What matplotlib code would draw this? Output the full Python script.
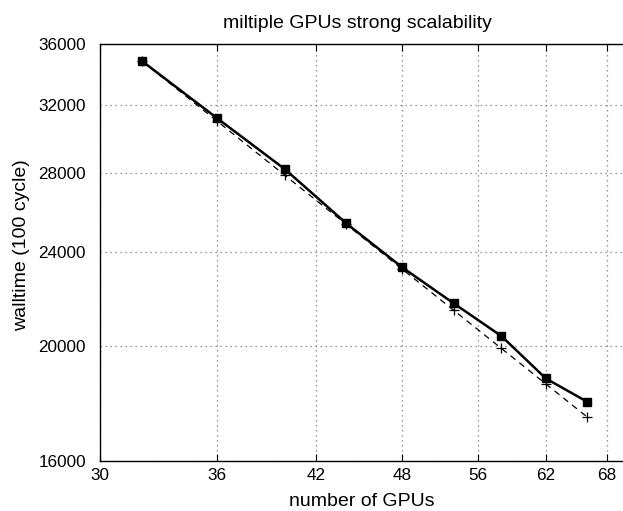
import matplotlib.pyplot as plt
from matplotlib.ticker import FixedLocator, NullLocator

plt.rcParams['font.family'] = ['Liberation Sans', 'DejaVu Sans']

# data
gpus = [32, 36, 40, 44, 48, 52, 56, 60, 64]
walltime = [34850, 31155, 28213, 25398, 23313, 21737, 20398, 18785, 17949]
ideal = [34850, 30978, 27880, 25345, 23233, 21446, 19914, 18587, 17425]

xtick_pos = [30, 36, 42, 48, 54, 60, 66]
xtick_labels = ['30', '36', '42', '48', '56', '62', '68']
ytick_pos = [16000, 20000, 24000, 28000, 32000, 36000]

W, H = 623, 511
fig = plt.figure(figsize=(W / 100, H / 100), dpi=100)
# axes runs past the right edge like the cropped original
left, right, top, bottom = 100, 645, 44, 461
ax = fig.add_axes([left / W, (H - bottom) / H, (right - left) / W, (bottom - top) / H])

ax.plot(gpus, ideal, color='black', lw=0.9, ls=(0, (5, 4)), marker='+', ms=7, mew=0.9)
ax.plot(gpus, walltime, color='black', lw=1.8, marker='s', ms=5.5)

ax.set_xscale('log')
ax.set_yscale('log')
ax.set_xlim(30, 70)
ax.set_ylim(16000, 36000)

ax.xaxis.set_major_locator(FixedLocator(xtick_pos))
ax.xaxis.set_minor_locator(NullLocator())
ax.set_xticklabels(xtick_labels)
ax.yaxis.set_major_locator(FixedLocator(ytick_pos))
ax.yaxis.set_minor_locator(NullLocator())
ax.set_yticklabels([str(v) for v in ytick_pos])

ax.tick_params(direction='in', length=5, width=0.8, labelsize=12.3, top=True, pad=5)
ax.tick_params(axis='y', length=0, pad=10)
ax.grid(True, color='#777777', ls=(0, (1, 3)), lw=0.9)
for s in ax.spines.values():
    s.set_linewidth(1.0)
ax.spines['right'].set_visible(False)

fig.text(362 / W, 1 - 502 / H, 'number of GPUs', ha='center', va='center', fontsize=14)
fig.text(22 / W, 1 - 245 / H, 'walltime (100 cycle)', ha='center', va='center',
         rotation=90, fontsize=14)
fig.text(357 / W, 1 - 23 / H, 'miltiple GPUs strong scalability', ha='center', va='center', fontsize=14)

plt.savefig('out.png', dpi=100)
